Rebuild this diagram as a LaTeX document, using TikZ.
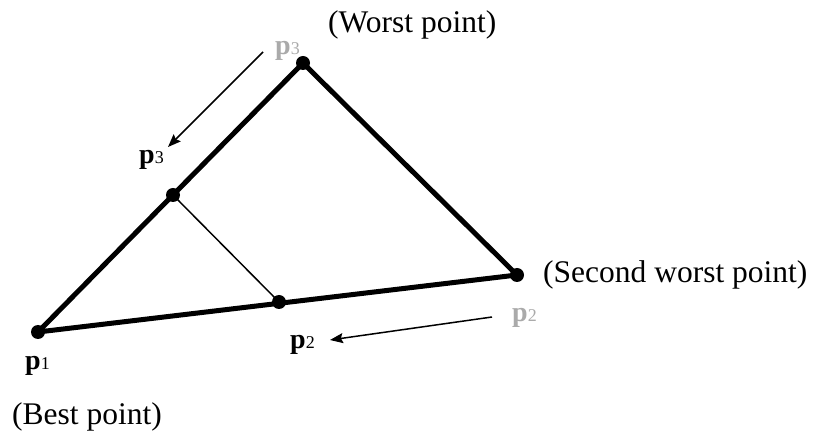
\documentclass[tikz,border=0pt]{standalone}
\usepackage{fontspec}
\setmainfont{Liberation Serif}
\usetikzlibrary{arrows.meta}
\definecolor{lightg}{RGB}{170,170,170}
\newcommand\plab[1]{{\fontsize{28}{30}\selectfont\bfseries p}{\fontsize{18}{20}\selectfont #1}}
\begin{document}
\begin{tikzpicture}[x=1pt,y=-1pt,
  dotnode/.style={circle,fill=black,inner sep=0pt,minimum size=14pt},
  edgeline/.style={line width=5pt,line join=round},
  thinline/.style={line width=1.5pt},
  txt/.style={inner sep=0pt,anchor=base west,font=\fontsize{31.5}{33}\selectfont},
  plbl/.style={inner sep=0pt,anchor=base west},
  arr/.style={line width=1.5pt,-{Stealth[length=13pt,width=10pt,inset=2pt]}}]
\useasboundingbox (0,0) rectangle (815,438);
% vertices
\coordinate (P1) at (38,332);
\coordinate (P3) at (303,63);
\coordinate (P2) at (517,275);
\coordinate (M3) at (173,195);
\coordinate (M2) at (279,302);
% triangle
\draw[edgeline] (P1) -- (P3) -- (P2) -- cycle;
\draw[thinline] (M3) -- (M2);
% dots
\node[dotnode] (d1) at (P1) {};
\node[dotnode] (d3) at (P3) {};
\node[dotnode] (d2) at (P2) {};
\node[dotnode] (dm3) at (M3) {};
\node[dotnode] (dm2) at (M2) {};
% labels
\node[txt] (worst) at (328,33) {(Worst point)};
\node[txt] (second) at (543,283) {(Second worst point)};
\node[txt] (best) at (12,425) {(Best point)};
\node[plbl] (lp1) at (25,370) {\plab{1}};
\node[plbl,text=lightg] (lp3old) at (275,55) {\plab{3}};
\node[plbl] (lp3new) at (139,164) {\plab{3}};
\node[plbl,text=lightg] (lp2old) at (512,322) {\plab{2}};
\node[plbl] (lp2new) at (290,349) {\plab{2}};
% arrows
\coordinate (a1s) at (263,52);
\coordinate (a1e) at (168,147);
\coordinate (a2s) at (492,317);
\coordinate (a2e) at (330,340);
\draw[arr] (a1s) -- (a1e);
\draw[arr] (a2s) -- (a2e);
\end{tikzpicture}
\end{document}
